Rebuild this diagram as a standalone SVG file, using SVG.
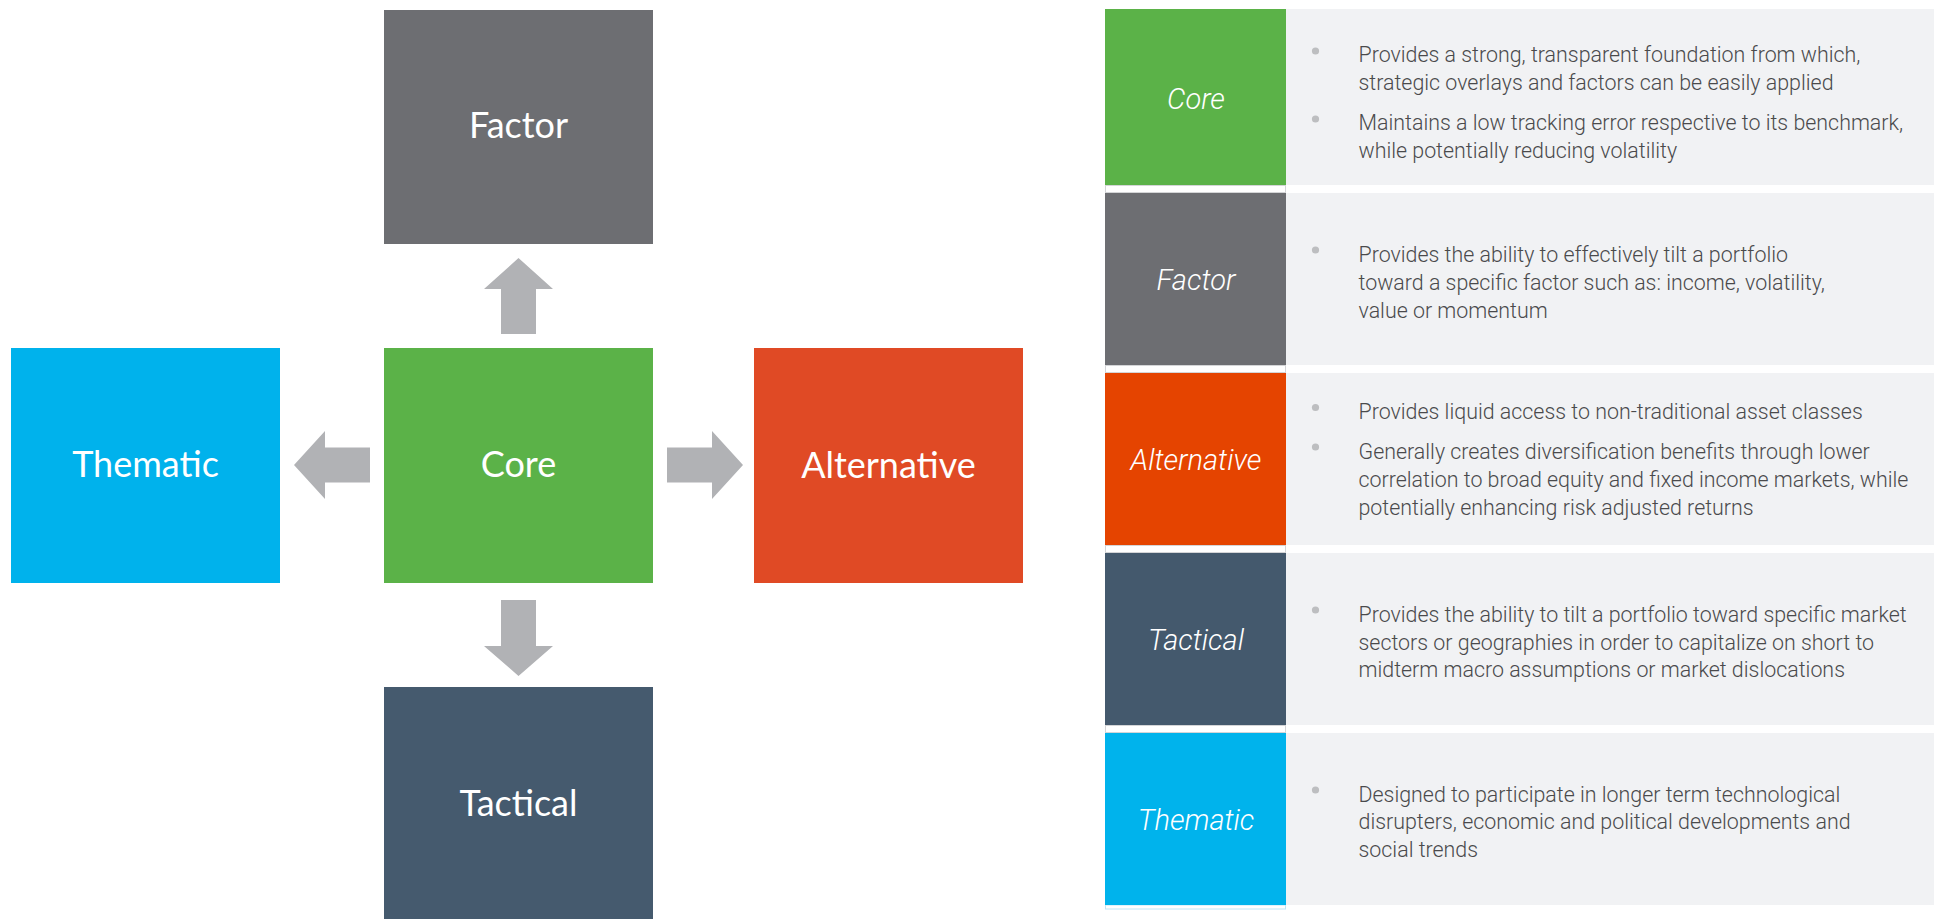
<svg xmlns="http://www.w3.org/2000/svg" width="1937" height="919" viewBox="0 0 1937 919">
<style>
.box-label{font-family:Lato,"Open Sans","Liberation Sans",sans-serif;font-size:36px;fill:#ffffff;text-anchor:middle}
.row-label{font-family:Roboto,"Liberation Sans",sans-serif;font-size:29px;font-weight:300;font-style:italic;fill:#ffffff;text-anchor:middle}
.desc{font-family:Roboto,"Liberation Sans",sans-serif;font-size:21.4px;font-weight:300;fill:#4a4a4c}
.panel{fill:#f1f2f4}
.bullet{fill:#bdbec0}
.gap{fill:#ffffff;stroke:#d4d5d7;stroke-width:1}
.arrow{fill:#b1b2b5}
</style>
<rect width="1937" height="919" fill="#ffffff"/>

<g id="connectors">
<polygon class="arrow" points="501,334 501,289 484,289 518.5,258 553,289 536,289 536,334"/>
<polygon class="arrow" points="501,600 536,600 536,646 553,646 518.5,676 484,646 501,646"/>
<polygon class="arrow" points="667,447.5 712,447.5 712,431 743,465 712,499 712,482.5 667,482.5"/>
<polygon class="arrow" points="370,447.5 325,447.5 325,431 294,465 325,499 325,482.5 370,482.5"/>
</g>

<g id="node-factor">
<rect x="384" y="10" width="269" height="234" fill="#6d6e72"/>
<text class="box-label" x="518.5" y="138">Factor</text>
</g>
<g id="node-thematic">
<rect x="11" y="348" width="269" height="235" fill="#00b2ec"/>
<text class="box-label" x="145.5" y="477">Thematic</text>
</g>
<g id="node-core">
<rect x="384" y="348" width="269" height="235" fill="#5bb248"/>
<text class="box-label" x="518.5" y="477">Core</text>
</g>
<g id="node-alternative">
<rect x="754" y="348" width="269" height="235" fill="#e04a25"/>
<text class="box-label" x="888.5" y="478">Alternative</text>
</g>
<g id="node-tactical">
<rect x="384" y="687" width="269" height="232" fill="#455a6e"/>
<text class="box-label" x="518.5" y="816">Tactical</text>
</g>

<g id="table">
<rect class="gap" x="1105.5" y="185.5" width="180" height="7"/>
<rect class="gap" x="1105.5" y="365.5" width="180" height="7"/>
<rect class="gap" x="1105.5" y="545.5" width="180" height="7"/>
<rect class="gap" x="1105.5" y="725.5" width="180" height="7"/>
<rect x="1105.5" y="905" width="180" height="4" fill="#ffffff" stroke="#bfe6f7" stroke-width="1"/>

<g id="row-core">
<rect x="1105" y="9" width="181" height="176" fill="#5bb248"/>
<rect class="panel" x="1286" y="9" width="648" height="176"/>
<text class="row-label" x="1196" y="109">Core</text>
<circle class="bullet" cx="1315.5" cy="51" r="3.6"/>
<text class="desc" x="1358.5" y="62">Provides a strong, transparent foundation from which,</text>
<text class="desc" x="1358.5" y="90">strategic overlays and factors can be easily applied</text>
<circle class="bullet" cx="1315.5" cy="119" r="3.6"/>
<text class="desc" x="1358.5" y="130">Maintains a low tracking error respective to its benchmark,</text>
<text class="desc" x="1358.5" y="158">while potentially reducing volatility</text>
</g>

<g id="row-factor">
<rect x="1105" y="193" width="181" height="172" fill="#6d6e72"/>
<rect class="panel" x="1286" y="193" width="648" height="172"/>
<text class="row-label" x="1196" y="290">Factor</text>
<circle class="bullet" cx="1315.5" cy="250" r="3.6"/>
<text class="desc" x="1358.5" y="262">Provides the ability to effectively tilt a portfolio</text>
<text class="desc" x="1358.5" y="290">toward a specific factor such as: income, volatility,</text>
<text class="desc" x="1358.5" y="318">value or momentum</text>
</g>

<g id="row-alternative">
<rect x="1105" y="373" width="181" height="172" fill="#e54400"/>
<rect class="panel" x="1286" y="373" width="648" height="172"/>
<text class="row-label" x="1196" y="470">Alternative</text>
<circle class="bullet" cx="1315.5" cy="407.5" r="3.6"/>
<text class="desc" x="1358.5" y="419">Provides liquid access to non-traditional asset classes</text>
<circle class="bullet" cx="1315.5" cy="447" r="3.6"/>
<text class="desc" x="1358.5" y="459">Generally creates diversification benefits through lower</text>
<text class="desc" x="1358.5" y="487">correlation to broad equity and fixed income markets, while</text>
<text class="desc" x="1358.5" y="515">potentially enhancing risk adjusted returns</text>
</g>

<g id="row-tactical">
<rect x="1105" y="553" width="181" height="172" fill="#44596d"/>
<rect class="panel" x="1286" y="553" width="648" height="172"/>
<text class="row-label" x="1196" y="650">Tactical</text>
<circle class="bullet" cx="1315.5" cy="610" r="3.6"/>
<text class="desc" x="1358.5" y="622">Provides the ability to tilt a portfolio toward specific market</text>
<text class="desc" x="1358.5" y="650">sectors or geographies in order to capitalize on short to</text>
<text class="desc" x="1358.5" y="677">midterm macro assumptions or market dislocations</text>
</g>

<g id="row-thematic">
<rect x="1105" y="733" width="181" height="172" fill="#00b3ec"/>
<rect class="panel" x="1286" y="733" width="648" height="172"/>
<text class="row-label" x="1196" y="830">Thematic</text>
<circle class="bullet" cx="1315.5" cy="790" r="3.6"/>
<text class="desc" x="1358.5" y="802">Designed to participate in longer term technological</text>
<text class="desc" x="1358.5" y="829">disrupters, economic and political developments and</text>
<text class="desc" x="1358.5" y="857">social trends</text>
</g>
</g>
</svg>
